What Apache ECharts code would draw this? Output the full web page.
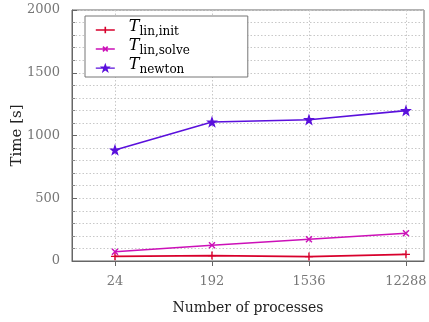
<!DOCTYPE html>
<html>
<head>
<meta charset="utf-8">
<script src="https://cdn.jsdelivr.net/npm/echarts@6/dist/echarts.min.js"></script>
<style>
html,body{margin:0;padding:0;background:#fff;}
#chart{width:429px;height:322px;}
</style>
</head>
<body>
<div id="chart"></div>
<script>
// Number of processes (log-spaced, factor 8 between runs)
const processes = [24, 192, 1536, 12288];
// Wall-clock times in seconds
const tLinInit  = [37, 43, 35, 53];
const tLinSolve = [74, 125, 173, 221];
const tNewton   = [884, 1107, 1126, 1198];
const yTicks = [0, 500, 1000, 1500, 2000];

const serif = '"DejaVu Serif", "Liberation Serif", serif';
const cRed = '#d8002c';
const cMag = '#cc10b8';
const cPur = '#5a10dc';

const plusPath = 'path://M0,5L10,5M5,0L5,10';
const crossPath = 'path://M1,1L9,9M9,1L1,9';
const starPath = 'path://M5,0L6.18,3.38L9.76,3.45L6.9,5.62L7.94,9.05L5,7L2.06,9.05L3.1,5.62L0.24,3.45L3.82,3.38Z';

// legend icons: a short line with the marker in its centre
const lgPlus = 'path://M0,5L20,5M10,1.5L10,8.5';
const lgCross = 'path://M0,5L20,5M7.5,2.5L12.5,7.5M12.5,2.5L7.5,7.5';
const lgStar = 'path://M0,5.2L7,5.2M13,5.2L20,5.2M10,1.5L11,4.2L13.9,4.2L11.6,6L12.5,8.8L10,7.1L7.5,8.8L8.4,6L6.1,4.2L9,4.2Z';

// runs are equally spaced on the log axis: position = run index
function pairs(vals){ return processes.map((p,i)=>[i, vals[i]]); }

function series(name, vals, color, sym, size){
  return {
    name: name, type: 'line', data: pairs(vals),
    symbol: sym, symbolSize: size,
    lineStyle: {color: color, width: 1.6},
    itemStyle: {color: color, borderColor: color, borderWidth: 1.4},
    emphasis: {disabled: true},
    animation: false
  };
}

const chart = echarts.init(document.getElementById('chart'), null, {renderer: 'canvas'});
const rich = {
  t: {fontFamily: serif, fontStyle: 'italic', fontSize: 16, color: '#000', verticalAlign: 'bottom', lineHeight: 10, padding: [0,0,0,9]},
  s: {fontFamily: serif, fontSize: 12, color: '#000', verticalAlign: 'bottom', lineHeight: 8, padding: [0,0,-3,0]}
};
chart.setOption({
  animation: false,
  grid: {left: 72, right: 5, top: 10, bottom: 61, show: true, borderColor: '#666', borderWidth: 1,
    outerBoundsMode: 'none', containLabel: false},
  legend: {
    orient: 'vertical', left: 85, top: 16,
    padding: [3, 58, 1, 10], itemGap: 0,
    itemWidth: 19, itemHeight: 10,
    backgroundColor: '#fff', borderColor: '#777', borderWidth: 1, borderRadius: 0,
    textStyle: {rich: rich},
    formatter: function(n){
      const sub = {init: 'lin,init', solve: 'lin,solve', newton: 'newton'}[n];
      return '{t|T}{s|' + sub + '}';
    },
    data: [
      {name: 'init', icon: lgPlus, itemStyle: {color: cRed, borderColor: cRed, borderWidth: 1.6}},
      {name: 'solve', icon: lgCross, itemStyle: {color: cMag, borderColor: cMag, borderWidth: 1.6}},
      {name: 'newton', icon: lgStar, itemStyle: {color: cPur, borderColor: cPur, borderWidth: 1.2}}
    ]
  },
  xAxis: {
    type: 'value', min: -0.443, max: 3.186,
    name: 'Number of processes', nameLocation: 'middle', nameGap: 40,
    nameTextStyle: {fontFamily: serif, fontSize: 14, color: '#222'},
    axisLine: {show: true, onZero: false, lineStyle: {color: '#666'}},
    axisTick: {show: true, length: 5, lineStyle: {color: '#666'}, customValues: [0, 1, 2, 3]},
    axisLabel: {fontFamily: serif, fontSize: 13, color: '#777', margin: 14, customValues: [0, 1, 2, 3],
      formatter: v => String(processes[Math.round(v)])},
    splitLine: {show: true, lineStyle: {color: '#c8c8c8', type: [1.5, 2]}},
    minorTick: {show: false}
  },
  yAxis: {
    type: 'value', min: 0, max: 2000, interval: 500,
    name: 'Time [s]', nameLocation: 'middle', nameGap: 47, nameRotate: 90, nameMoveOverlap: false,
    nameTextStyle: {fontFamily: serif, fontSize: 15, color: '#222'},
    axisLine: {show: true, onZero: false, lineStyle: {color: '#666'}},
    axisTick: {show: true, inside: true, length: 5, lineStyle: {color: '#666'}},
    minorTick: {show: true, splitNumber: 5, length: 3, lineStyle: {color: '#888'}},
    axisLabel: {fontFamily: serif, fontSize: 13, color: '#777', margin: 12,
      customValues: yTicks, formatter: v => String(v)},
    splitLine: {show: true, lineStyle: {color: '#c8c8c8', type: [1.5, 2]}},
    minorSplitLine: {show: true, lineStyle: {color: '#c8c8c8', type: [1.5, 2]}}
  },
  series: [
    series('init', tLinInit, cRed, plusPath, 8),
    series('solve', tLinSolve, cMag, crossPath, 6),
    series('newton', tNewton, cPur, starPath, 8)
  ]
});
</script>
</body>
</html>
